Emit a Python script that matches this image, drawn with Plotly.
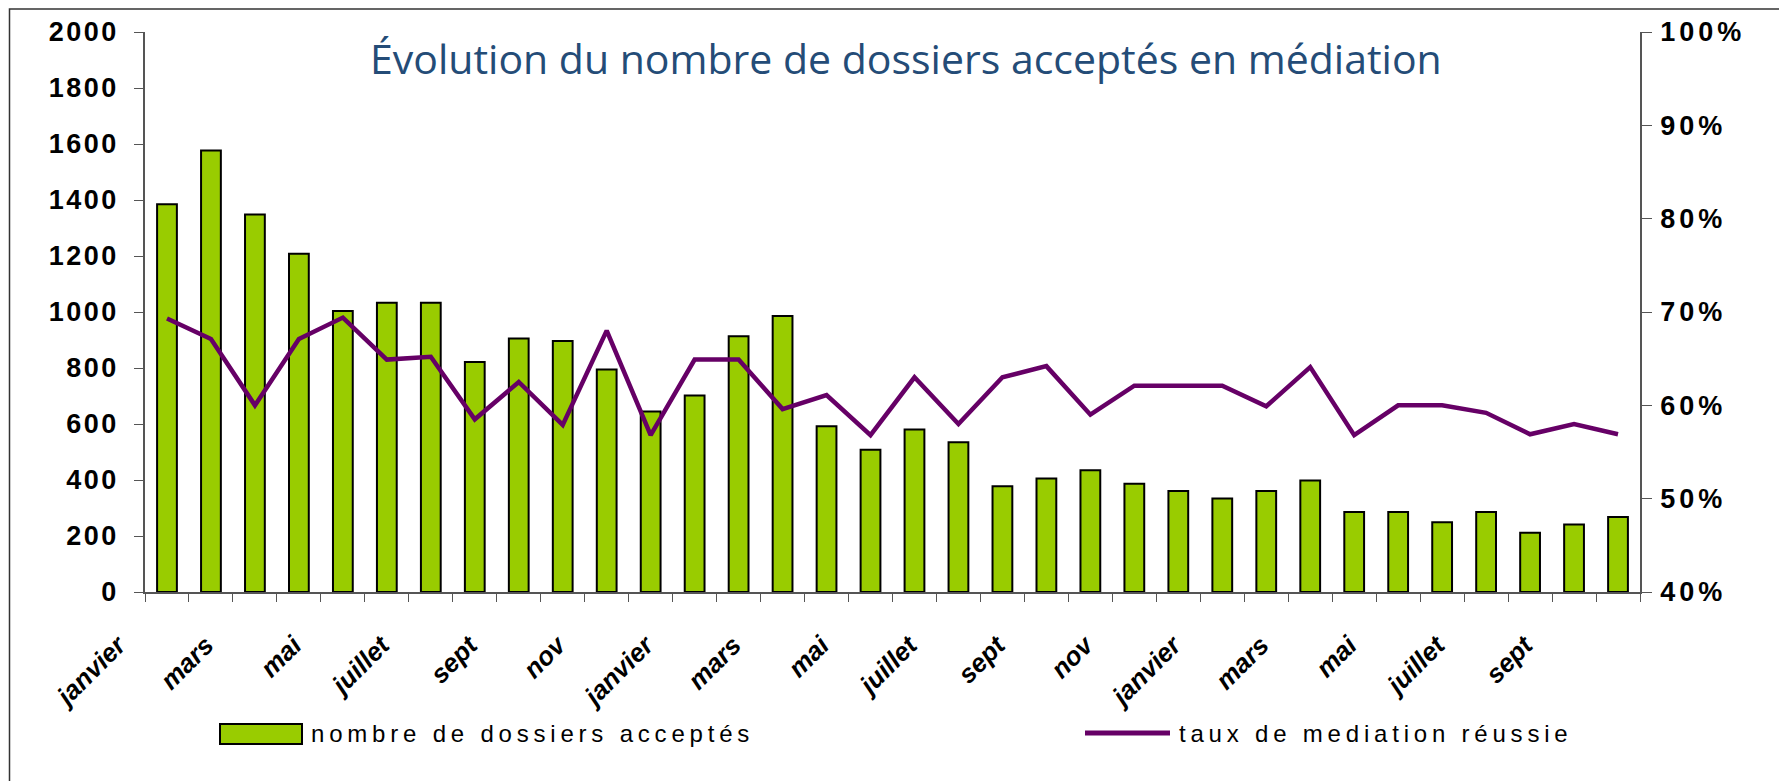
import plotly.graph_objects as go

months = ["janvier", "février", "mars", "avril", "mai", "juin", "juillet", "août", "sept", "oct", "nov", "déc",
          "janvier", "février", "mars", "avril", "mai", "juin", "juillet", "août", "sept", "oct", "nov", "déc",
          "janvier", "février", "mars", "avril", "mai", "juin", "juillet", "août", "sept", "oct"]
dossiers = [1385, 1577, 1348, 1208, 1004, 1033, 1033, 821, 905, 896, 795, 645,
            702, 913, 986, 592, 508, 580, 535, 378, 405, 435, 387, 361,
            334, 361, 398, 286, 286, 249, 286, 212, 241, 268]
taux = [0.693, 0.671, 0.600, 0.671, 0.694, 0.649, 0.652, 0.585, 0.625, 0.579, 0.680, 0.568,
        0.649, 0.649, 0.596, 0.611, 0.568, 0.630, 0.580, 0.630, 0.642, 0.590, 0.621, 0.621,
        0.621, 0.599, 0.641, 0.568, 0.600, 0.600, 0.592, 0.569, 0.580, 0.569]
left_ticks = [0, 200, 400, 600, 800, 1000, 1200, 1400, 1600, 1800, 2000]
right_ticks = [0.4, 0.5, 0.6, 0.7, 0.8, 0.9, 1.0]
right_labels = ["40%", "50%", "60%", "70%", "80%", "90%", "100%"]

x_idx = list(range(len(months)))
tick_vals = x_idx[::2]
tick_text = months[::2]

# screen geometry (page body has an 8px default margin)
OFF = 8
SW, SH = 1787, 781
FW, FH = SW - OFF, SH - OFF
L, R, T, B = 145, 1640, 32, 592  # plot area in screen px

def px(xp):
    return (xp - L) / (R - L)

def py(yp):
    return (B - yp) / (B - T)

def spaced(s, ls):
    return '<span style="letter-spacing:%spx">%s</span>' % (ls, s)

fig = go.Figure()
fig.add_trace(go.Bar(x=x_idx, y=dossiers, width=0.45, name="nombre de dossiers acceptés",
                     marker=dict(color="#99CC00", line=dict(color="#000000", width=2)),
                     showlegend=False))
fig.add_trace(go.Scatter(x=x_idx, y=taux, mode="lines", name="taux de mediation réussie",
                         line=dict(color="#660066", width=4.5), yaxis="y2", showlegend=False))

axis_col = "#555555"
tick_font = dict(family="Liberation Sans, Arial", size=27, color="#000", weight="bold")
fig.update_layout(
    width=FW, height=FH,
    margin=dict(l=L - OFF, r=FW - (R - OFF), t=T - OFF, b=FH - (B - OFF), autoexpand=False),
    paper_bgcolor="white", plot_bgcolor="white",
    showlegend=False,
    xaxis=dict(range=[-0.5, len(months) - 0.5], tickmode="array", tickvals=tick_vals, ticktext=tick_text,
               tickangle=-45, ticks="outside", ticklen=0, tickcolor="rgba(0,0,0,0)",
               ticklabelshift=-49, ticklabelstandoff=26, automargin=False,
               tickfont=dict(family="Liberation Sans, Arial", size=26, color="#000", weight="bold", style="italic"),
               showline=True, linecolor=axis_col, linewidth=1.5, showgrid=False, zeroline=False,
               minor=dict(tickmode="linear", tick0=-0.5, dtick=1, ticks="outside", ticklen=8,
                          tickcolor=axis_col, tickwidth=1.2, showgrid=False)),
    yaxis=dict(range=[0, 2000], tickmode="array", tickvals=left_ticks,
               ticktext=[spaced(str(v), 2.5) for v in left_ticks],
               ticks="outside", ticklen=9, tickcolor=axis_col, tickwidth=1.2, automargin=False,
               showline=True, linecolor=axis_col, linewidth=1.5, showgrid=False, zeroline=False,
               ticklabelstandoff=10, tickfont=tick_font),
    yaxis2=dict(range=[0.4, 1.0], tickmode="array", tickvals=right_ticks,
                ticktext=[spaced(t, 4) for t in right_labels], overlaying="y", side="right",
                ticks="outside", ticklen=10, tickcolor=axis_col, tickwidth=1.2, automargin=False,
                showline=True, linecolor=axis_col, linewidth=1.5, showgrid=False, zeroline=False,
                ticklabelstandoff=3, tickfont=tick_font),
)

# chart title
fig.add_annotation(text="Évolution du nombre de dossiers acceptés en médiation",
                   xref="paper", yref="paper", x=px(906), y=py(58), xanchor="center", yanchor="middle",
                   showarrow=False, font=dict(family="Open Sans", size=41, color="#244C77"))

# outer frame
fig.add_shape(type="rect", xref="paper", yref="paper", x0=px(9.5), x1=px(1783.5), y0=py(800), y1=py(9),
              line=dict(color="#333333", width=1.5), fillcolor="rgba(0,0,0,0)", layer="below")

# legend (drawn manually to match symbol sizes)
fig.add_shape(type="rect", xref="paper", yref="paper", x0=px(220), x1=px(302), y0=py(744), y1=py(724),
              line=dict(color="#000000", width=2), fillcolor="#99CC00")
fig.add_annotation(text=spaced("nombre de dossiers acceptés", 4.8),
                   xref="paper", yref="paper", x=px(309), y=py(733), xanchor="left", yanchor="middle",
                   showarrow=False, font=dict(family="Liberation Sans, Arial", size=24, color="#000"))
fig.add_shape(type="line", xref="paper", yref="paper", x0=px(1085), x1=px(1170), y0=py(733), y1=py(733),
              line=dict(color="#660066", width=5))
fig.add_annotation(text=spaced("taux de mediation réussie", 4.8),
                   xref="paper", yref="paper", x=px(1177), y=py(733), xanchor="left", yanchor="middle",
                   showarrow=False, font=dict(family="Liberation Sans, Arial", size=24, color="#000"))

fig.write_html("out.html")
